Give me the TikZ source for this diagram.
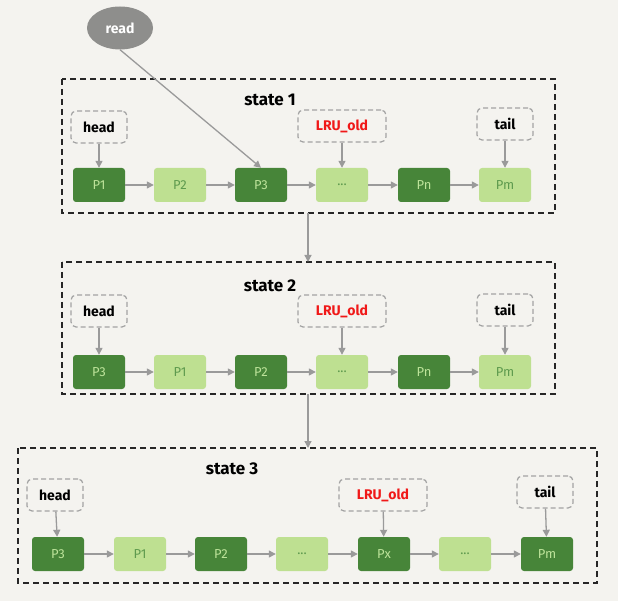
\documentclass[tikz,border=0pt]{standalone}
\usepackage{fontspec}
\setmainfont{Fira Sans}
\usetikzlibrary{arrows.meta,shapes.geometric}
\definecolor{bgc}{HTML}{F4F3EF}
\definecolor{dkg}{HTML}{478539}
\definecolor{ltg}{HTML}{BEE091}
\definecolor{dkt}{HTML}{BDE39A}
\definecolor{ltt}{HTML}{5E9A4E}
\definecolor{arr}{HTML}{9A9A9A}
\definecolor{lbl}{HTML}{A3A3A3}
\definecolor{rdn}{HTML}{F01818}
\definecolor{elg}{HTML}{8E8E8C}
\tikzset{
  pg/.style={rectangle,rounded corners=3pt,minimum width=52pt,minimum height=34pt,inner sep=0pt,font=\fontsize{13}{13}\selectfont},
  dk/.style={pg,fill=dkg,text=dkt},
  lt/.style={pg,fill=ltg,text=ltt},
  lab/.style={rectangle,rounded corners=5pt,draw=lbl,dashed,line width=1.2pt,dash pattern=on 5pt off 3pt,minimum width=56pt,minimum height=32pt,inner sep=0pt,font=\bfseries\fontsize{14}{14}\selectfont},
  frame/.style={draw=black!85,line width=1.6pt,dash pattern=on 6pt off 4pt},
  ttl/.style={font=\bfseries\fontsize{17}{17}\selectfont},
  con/.style={draw=arr,line width=1.3pt,-{Triangle[length=7pt,width=7pt]}},
}
\begin{document}
\begin{tikzpicture}[x=1pt,y=-1pt]
\fill[bgc] (0,0) rectangle (618,601);
\useasboundingbox (0,0) rectangle (618,601);
% read
\node[ellipse,fill=elg,minimum width=66pt,minimum height=43pt,inner sep=0pt,text=white,font=\bfseries\fontsize{14}{14}\selectfont] (read) at (120,28) {read};
% frames
\draw[frame] (62,79) rectangle (555,213);
\draw[frame] (62,262) rectangle (555,394);
\draw[frame] (18,448) rectangle (597,583);
\coordinate (f1b) at (308,213);
\coordinate (f2t) at (308,262);
\coordinate (f2b) at (308,394);
\coordinate (f3t) at (308,448);
\node[ttl] (t1) at (270,100) {state 1};
\node[ttl] (t2) at (270,286) {state 2};
\node[ttl] (t3) at (232,469) {state 3};
% state 1
\node[dk] (a1) at (99,185) {P1};
\node[lt] (a2) at (180,185) {P2};
\node[dk] (a3) at (261,185) {P3};
\node[lt] (a4) at (342,185) {...};
\node[dk] (a5) at (424,185) {Pn};
\node[lt] (a6) at (505,185) {Pm};
\node[lab] (ah) at (99,127) {head};
\node[lab,minimum width=88pt,text=rdn] (ao) at (342,126) {LRU\_old};
\node[lab] (at) at (505,124) {tail};
% state 2
\node[dk] (b1) at (99,372) {P3};
\node[lt] (b2) at (180,372) {P1};
\node[dk] (b3) at (261,372) {P2};
\node[lt] (b4) at (342,372) {...};
\node[dk] (b5) at (424,372) {Pn};
\node[lt] (b6) at (505,372) {Pm};
\node[lab] (bh) at (99,311) {head};
\node[lab,minimum width=88pt,text=rdn] (bo) at (342,311) {LRU\_old};
\node[lab] (bt) at (505,310) {tail};
% state 3
\node[dk] (c1) at (58,554) {P3};
\node[lt] (c2) at (140,554) {P1};
\node[dk] (c3) at (221,554) {P2};
\node[lt] (c4) at (302,554) {...};
\node[dk] (c5) at (384,554) {Px};
\node[lt] (c6) at (465,554) {...};
\node[dk] (c7) at (547,554) {Pm};
\node[lab] (ch) at (55,495) {head};
\node[lab,minimum width=88pt,text=rdn] (co) at (383,495) {LRU\_old};
\node[lab] (ct) at (545,492) {tail};
% connectors
\foreach \s in {a,b}{
  \draw[con] (\s1) -- (\s2);
  \draw[con] (\s2) -- (\s3);
  \draw[con] (\s3) -- (\s4);
  \draw[con] (\s4) -- (\s5);
  \draw[con] (\s5) -- (\s6);
  \draw[con] (\s h) -- (\s1);
  \draw[con] (\s o) -- (\s4);
  \draw[con] (\s t) -- (\s6);
}
\draw[con] (c1) -- (c2);
\draw[con] (c2) -- (c3);
\draw[con] (c3) -- (c4);
\draw[con] (c4) -- (c5);
\draw[con] (c5) -- (c6);
\draw[con] (c6) -- (c7);
\draw[con] (ch) -- (c1);
\draw[con] (co) -- (c5);
\draw[con] (ct) -- (c7);
\draw[con] (read.south) -- (a3.north);
\draw[con] (f1b) -- (f2t);
\draw[con] (f2b) -- (f3t);
\end{tikzpicture}
\end{document}
